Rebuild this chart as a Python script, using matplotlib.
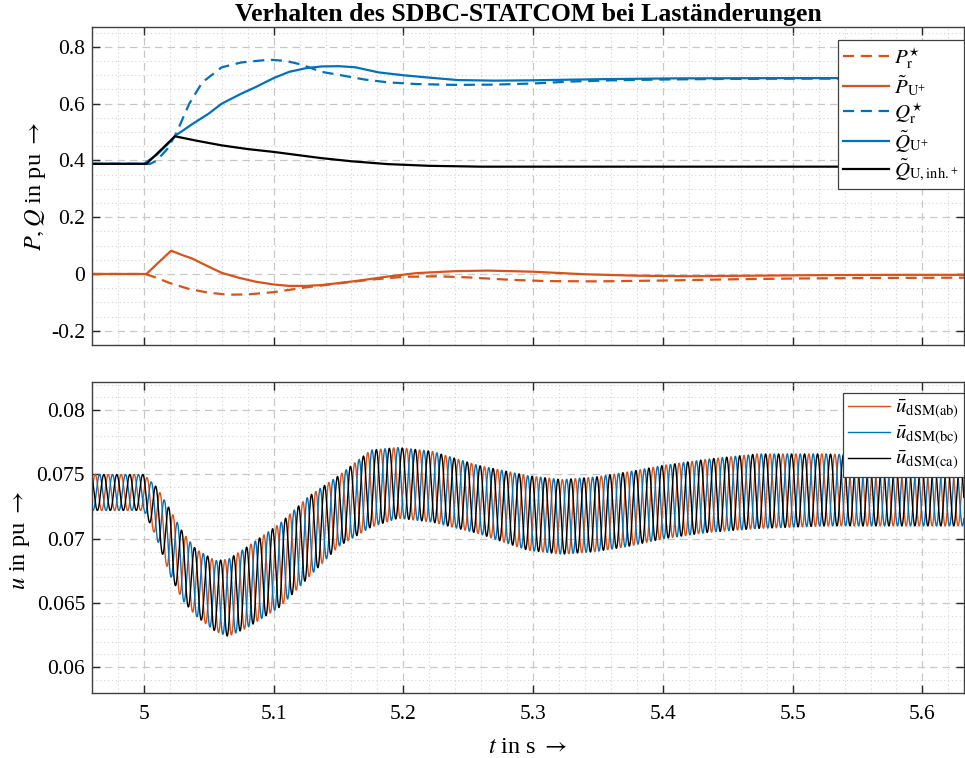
import numpy as np
import matplotlib
matplotlib.use("Agg")
import matplotlib.pyplot as plt
from matplotlib.ticker import MultipleLocator

plt.rcParams['font.family'] = ['Liberation Serif', 'DejaVu Serif']
plt.rcParams['mathtext.fontset'] = 'stix'
plt.rcParams['axes.unicode_minus'] = False

C_ORANGE = '#D95319'
C_BLUE = '#0072BD'
C_BLACK = '#000000'

# ---- upper panel: active / reactive power ----
t_pref = [4.96, 5.001, 5.009, 5.020, 5.035, 5.050, 5.065, 5.080, 5.100, 5.125,
          5.150, 5.175, 5.200, 5.225, 5.250, 5.280, 5.310, 5.350, 5.400, 5.450,
          5.500, 5.560, 5.632]
p_ref = [0.0, 0.0, -0.012, -0.032, -0.053, -0.066, -0.073, -0.072, -0.064, -0.047,
         -0.033, -0.020, -0.010, -0.008, -0.012, -0.020, -0.025, -0.026, -0.023, -0.019,
         -0.016, -0.014, -0.013]

t_pmeas = [4.96, 5.002, 5.010, 5.021, 5.030, 5.037, 5.048, 5.060, 5.073, 5.086,
           5.100, 5.112, 5.125, 5.137, 5.163, 5.188, 5.210, 5.240, 5.265, 5.300,
           5.340, 5.380, 5.420, 5.470, 5.520, 5.580, 5.632]
p_meas = [0.0, 0.0, 0.035, 0.082, 0.066, 0.055, 0.030, 0.004, -0.013, -0.027,
          -0.037, -0.042, -0.042, -0.039, -0.025, -0.009, 0.003, 0.010, 0.012, 0.008,
          -0.001, -0.006, -0.008, -0.006, -0.004, -0.003, -0.003]

t_qref = [4.96, 5.000, 5.005, 5.010, 5.018, 5.025, 5.035, 5.045, 5.060, 5.075,
          5.097, 5.110, 5.121, 5.137, 5.152, 5.170, 5.188, 5.210, 5.240, 5.270,
          5.300, 5.330, 5.360, 5.400, 5.450, 5.500, 5.550, 5.632]
q_ref = [0.388, 0.388, 0.388, 0.400, 0.440, 0.496, 0.600, 0.675, 0.728, 0.745,
         0.755, 0.750, 0.738, 0.712, 0.700, 0.685, 0.675, 0.669, 0.666, 0.667,
         0.671, 0.678, 0.682, 0.685, 0.687, 0.688, 0.688, 0.687]

t_qmeas = [4.96, 5.000, 5.010, 5.020, 5.025, 5.030, 5.037, 5.050, 5.060, 5.075,
           5.086, 5.100, 5.112, 5.125, 5.137, 5.150, 5.163, 5.181, 5.200, 5.219,
           5.242, 5.270, 5.296, 5.350, 5.410, 5.500, 5.632]
q_meas = [0.388, 0.388, 0.420, 0.465, 0.490, 0.505, 0.527, 0.565, 0.600, 0.635,
          0.658, 0.690, 0.712, 0.725, 0.731, 0.732, 0.728, 0.710, 0.700, 0.692,
          0.683, 0.681, 0.682, 0.686, 0.689, 0.690, 0.690]

t_qinh = [4.96, 5.002, 5.024, 5.040, 5.060, 5.080, 5.100, 5.120, 5.137, 5.160,
          5.188, 5.220, 5.260, 5.350, 5.632]
q_inh = [0.388, 0.388, 0.485, 0.470, 0.453, 0.440, 0.430, 0.418, 0.408, 0.397,
         0.387, 0.381, 0.378, 0.378, 0.378]

# ---- lower panel: submodule capacitor voltage ripple envelope ----
ripple_t = [4.96, 5.000, 5.010, 5.020, 5.030, 5.040, 5.055, 5.065, 5.080, 5.105,
            5.127, 5.150, 5.175, 5.196, 5.222, 5.258, 5.296, 5.322, 5.348, 5.373,
            5.400, 5.435, 5.473, 5.525, 5.580, 5.632]
ripple_upper = [0.0750, 0.0750, 0.0740, 0.0723, 0.0705, 0.0692, 0.0683, 0.0684, 0.0694, 0.0712,
                0.0733, 0.0749, 0.0769, 0.0771, 0.0768, 0.0757, 0.0749, 0.0746, 0.0748, 0.0752,
                0.0757, 0.0762, 0.0766, 0.0766, 0.0764, 0.0762]
ripple_lower = [0.0722, 0.0722, 0.0700, 0.0672, 0.0652, 0.0640, 0.0628, 0.0624, 0.0631, 0.0647,
                0.0670, 0.0694, 0.0709, 0.0716, 0.0713, 0.0704, 0.0691, 0.0688, 0.0690, 0.0694,
                0.0700, 0.0705, 0.0708, 0.0710, 0.0710, 0.0710]
ripple_freq = 100.0  # Hz, double line frequency
phase_labels = [r'$\bar{u}_{\mathrm{dSM(ab)}}$', r'$\bar{u}_{\mathrm{dSM(bc)}}$',
                r'$\bar{u}_{\mathrm{dSM(ca)}}$']
phase_shift_deg = [0.0, -120.0, 120.0]
phase_colors = [C_ORANGE, C_BLUE, C_BLACK]

x_lim = (4.96, 5.632)
TICK_FS = 15.5
LABEL_FS = 17.5

fig = plt.figure(figsize=(9.65, 7.58), dpi=100)
ax1 = fig.add_axes([0.0953, 0.5449, 0.9036, 0.4195])
ax2 = fig.add_axes([0.0953, 0.0858, 0.9036, 0.4103])


def style_axes(ax):
    ax.set_xlim(*x_lim)
    ax.xaxis.set_major_locator(MultipleLocator(0.1))
    ax.xaxis.set_minor_locator(MultipleLocator(0.02))
    ax.grid(True, which='major', color='#c8c8c8', linestyle=(0, (6, 4)), linewidth=0.9)
    ax.grid(True, which='minor', color='#d4d4d4', linestyle=(0, (1, 2.5)), linewidth=0.8)
    ax.set_axisbelow(True)
    ax.tick_params(which='major', direction='in', length=6, width=1.0,
                   top=True, right=True, labelsize=TICK_FS, colors='#262626',
                   labelcolor='black', pad=5)
    ax.tick_params(which='minor', length=0)
    for sp in ax.spines.values():
        sp.set_color('#404040')
        sp.set_linewidth(1.0)


style_axes(ax1)
style_axes(ax2)

dash = (0, (5, 3))
ax1.plot(t_pref, p_ref, color=C_ORANGE, lw=1.6, ls=dash, label=r'$P_{\mathrm{r}}^{\star}$')
ax1.plot(t_pmeas, p_meas, color=C_ORANGE, lw=1.6, label=r'$\tilde{P}_{\mathrm{U}^{+}}$')
ax1.plot(t_qref, q_ref, color=C_BLUE, lw=1.6, ls=dash, label=r'$Q_{\mathrm{r}}^{\star}$')
ax1.plot(t_qmeas, q_meas, color=C_BLUE, lw=1.6, label=r'$\tilde{Q}_{\mathrm{U}^{+}}$')
ax1.plot(t_qinh, q_inh, color=C_BLACK, lw=1.6, label=r'$\tilde{Q}_{\mathrm{U,inh.}^{+}}$')

ax1.set_ylim(-0.25, 0.87)
ax1.yaxis.set_minor_locator(MultipleLocator(0.05))
ax1.set_yticks([-0.2, 0, 0.2, 0.4, 0.6, 0.8])
ax1.set_yticklabels(['-0.2', '0', '0.2', '0.4', '0.6', '0.8'])
ax1.tick_params(labelbottom=False)
ax1.set_ylabel(r'$P, Q$ in pu $\rightarrow$', fontsize=LABEL_FS)
ax1.yaxis.set_label_coords(-0.050, 0.5)
ax1.set_title('Verhalten des SDBC-STATCOM bei Laständerungen', fontsize=18.5,
              fontweight='bold', pad=4)
leg1 = ax1.legend(loc='upper right', fontsize=15, handlelength=2.2, handletextpad=0.25,
                  borderaxespad=0.0, labelspacing=0.12, borderpad=0.25,
                  fancybox=False, framealpha=1.0, bbox_to_anchor=(1.0, 0.96))
leg1.get_frame().set_edgecolor('#404040')
leg1.get_frame().set_linewidth(0.9)

# ripple traces built from the read envelope
t_dense = np.arange(x_lim[0], x_lim[1], 0.0001)
upper = np.interp(t_dense, ripple_t, ripple_upper)
lower = np.interp(t_dense, ripple_t, ripple_lower)
centre = 0.5 * (upper + lower)
amp = 0.5 * (upper - lower)
for lab, shift, col in zip(phase_labels, phase_shift_deg, phase_colors):
    u = centre + amp * np.sin(2 * np.pi * ripple_freq * t_dense + np.deg2rad(shift))
    ax2.plot(t_dense, u, color=col, lw=1.0, label=lab)

ax2.set_ylim(0.058, 0.0822)
ax2.set_yticks([0.06, 0.065, 0.07, 0.075, 0.08])
ax2.set_yticklabels(['0.06', '0.065', '0.07', '0.075', '0.08'])
ax2.yaxis.set_minor_locator(MultipleLocator(0.001))
ax2.set_xticks([5.0, 5.1, 5.2, 5.3, 5.4, 5.5, 5.6])
ax2.set_xticklabels(['5', '5.1', '5.2', '5.3', '5.4', '5.5', '5.6'])
ax2.tick_params(axis='x', pad=9)
ax2.set_ylabel(r'$u$ in pu $\rightarrow$', fontsize=LABEL_FS)
ax2.yaxis.set_label_coords(-0.069, 0.49)
ax2.set_xlabel(r'$t$ in s $\rightarrow$', fontsize=LABEL_FS, labelpad=9)
leg2 = ax2.legend(loc='upper right', fontsize=15, handlelength=2.0, handletextpad=0.25,
                  borderaxespad=0.0, labelspacing=0.12, borderpad=0.25,
                  fancybox=False, framealpha=1.0, bbox_to_anchor=(1.0, 0.965))
leg2.get_frame().set_edgecolor('#404040')
leg2.get_frame().set_linewidth(0.9)

fig.savefig('out.png', dpi=100)
